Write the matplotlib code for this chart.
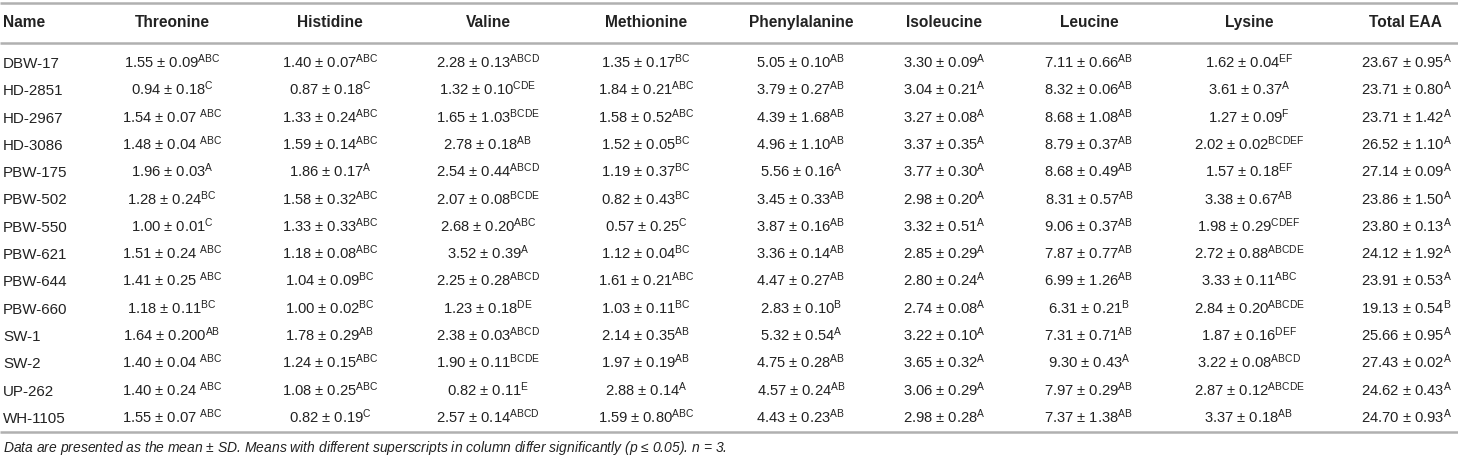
import matplotlib
matplotlib.use("Agg")
import matplotlib.pyplot as plt

plt.rcParams["font.family"] = ["Liberation Sans", "DejaVu Sans"]
plt.rcParams["mathtext.fontset"] = "custom"
plt.rcParams["mathtext.rm"] = "Liberation Sans"
plt.rcParams["mathtext.it"] = "Liberation Sans:italic"

columns = ["Name", "Threonine", "Histidine", "Valine", "Methionine",
           "Phenylalanine", "Isoleucine", "Leucine", "Lysine", "Total EAA"]

names = ["DBW-17", "HD-2851", "HD-2967", "HD-3086", "PBW-175", "PBW-502", "PBW-550",
         "PBW-621", "PBW-644", "PBW-660", "SW-1", "SW-2", "UP-262", "WH-1105"]

threonine = ["1.55 ± 0.09|ABC", "0.94 ± 0.18|C", "1.54 ± 0.07 |ABC", "1.48 ± 0.04 |ABC",
             "1.96 ± 0.03|A", "1.28 ± 0.24|BC", "1.00 ± 0.01|C", "1.51 ± 0.24 |ABC",
             "1.41 ± 0.25 |ABC", "1.18 ± 0.11|BC", "1.64 ± 0.200|AB", "1.40 ± 0.04 |ABC",
             "1.40 ± 0.24 |ABC", "1.55 ± 0.07 |ABC"]
histidine = ["1.40 ± 0.07|ABC", "0.87 ± 0.18|C", "1.33 ± 0.24|ABC", "1.59 ± 0.14|ABC",
             "1.86 ± 0.17|A", "1.58 ± 0.32|ABC", "1.33 ± 0.33|ABC", "1.18 ± 0.08|ABC",
             "1.04 ± 0.09|BC", "1.00 ± 0.02|BC", "1.78 ± 0.29|AB", "1.24 ± 0.15|ABC",
             "1.08 ± 0.25|ABC", "0.82 ± 0.19|C"]
valine = ["2.28 ± 0.13|ABCD", "1.32 ± 0.10|CDE", "1.65 ± 1.03|BCDE", "2.78 ± 0.18|AB",
          "2.54 ± 0.44|ABCD", "2.07 ± 0.08|BCDE", "2.68 ± 0.20|ABC", "3.52 ± 0.39|A",
          "2.25 ± 0.28|ABCD", "1.23 ± 0.18|DE", "2.38 ± 0.03|ABCD", "1.90 ± 0.11|BCDE",
          "0.82 ± 0.11|E", "2.57 ± 0.14|ABCD"]
methionine = ["1.35 ± 0.17|BC", "1.84 ± 0.21|ABC", "1.58 ± 0.52|ABC", "1.52 ± 0.05|BC",
              "1.19 ± 0.37|BC", "0.82 ± 0.43|BC", "0.57 ± 0.25|C", "1.12 ± 0.04|BC",
              "1.61 ± 0.21|ABC", "1.03 ± 0.11|BC", "2.14 ± 0.35|AB", "1.97 ± 0.19|AB",
              "2.88 ± 0.14|A", "1.59 ± 0.80|ABC"]
phenylalanine = ["5.05 ± 0.10|AB", "3.79 ± 0.27|AB", "4.39 ± 1.68|AB", "4.96 ± 1.10|AB",
                 "5.56 ± 0.16|A", "3.45 ± 0.33|AB", "3.87 ± 0.16|AB", "3.36 ± 0.14|AB",
                 "4.47 ± 0.27|AB", "2.83 ± 0.10|B", "5.32 ± 0.54|A", "4.75 ± 0.28|AB",
                 "4.57 ± 0.24|AB", "4.43 ± 0.23|AB"]
isoleucine = ["3.30 ± 0.09|A", "3.04 ± 0.21|A", "3.27 ± 0.08|A", "3.37 ± 0.35|A",
              "3.77 ± 0.30|A", "2.98 ± 0.20|A", "3.32 ± 0.51|A", "2.85 ± 0.29|A",
              "2.80 ± 0.24|A", "2.74 ± 0.08|A", "3.22 ± 0.10|A", "3.65 ± 0.32|A",
              "3.06 ± 0.29|A", "2.98 ± 0.28|A"]
leucine = ["7.11 ± 0.66|AB", "8.32 ± 0.06|AB", "8.68 ± 1.08|AB", "8.79 ± 0.37|AB",
           "8.68 ± 0.49|AB", "8.31 ± 0.57|AB", "9.06 ± 0.37|AB", "7.87 ± 0.77|AB",
           "6.99 ± 1.26|AB", "6.31 ± 0.21|B", "7.31 ± 0.71|AB", "9.30 ± 0.43|A",
           "7.97 ± 0.29|AB", "7.37 ± 1.38|AB"]
lysine = ["1.62 ± 0.04|EF", "3.61 ± 0.37|A", "1.27 ± 0.09|F", "2.02 ± 0.02|BCDEF",
          "1.57 ± 0.18|EF", "3.38 ± 0.67|AB", "1.98 ± 0.29|CDEF", "2.72 ± 0.88|ABCDE",
          "3.33 ± 0.11|ABC", "2.84 ± 0.20|ABCDE", "1.87 ± 0.16|DEF", "3.22 ± 0.08|ABCD",
          "2.87 ± 0.12|ABCDE", "3.37 ± 0.18|AB"]
total_eaa = ["23.67 ± 0.95|A", "23.71 ± 0.80|A", "23.71 ± 1.42|A", "26.52 ± 1.10|A",
             "27.14 ± 0.09|A", "23.86 ± 1.50|A", "23.80 ± 0.13|A", "24.12 ± 1.92|A",
             "23.91 ± 0.53|A", "19.13 ± 0.54|B", "25.66 ± 0.95|A", "27.43 ± 0.02|A",
             "24.62 ± 0.43|A", "24.70 ± 0.93|A"]

footnote = ("Data are presented as the mean ± SD. Means with different superscripts "
            "in column differ significantly ($p$ ≤ 0.05). $n$ = 3.")

value_cols = [threonine, histidine, valine, methionine, phenylalanine,
              isoleucine, leucine, lysine, total_eaa]
col_x = [172, 330, 488, 646, 801, 944, 1089, 1249, 1406]

W, H = 1458, 458
fig = plt.figure(figsize=(W / 100, H / 100), dpi=100)
ax = fig.add_axes([0, 0, 1, 1])
ax.set_xlim(0, W)
ax.set_ylim(H, 0)
ax.axis("off")

text_color = "#222222"
line_color = "#b0b0b0"
fs = 10.6
hfs = 11.2
first_row, row_step = 68, 27.3

# rules
for y in (3, 43, 432):
    ax.plot([0, W], [y, y], color=line_color, lw=1.8, solid_capstyle="butt")

# header
ax.text(3, 27, columns[0], fontsize=hfs, fontweight="bold", color=text_color,
        ha="left", va="baseline")
for x, label in zip(col_x, columns[1:]):
    ax.text(x, 27, label, fontsize=hfs, fontweight="bold", color=text_color,
            ha="center", va="baseline")

# body
for i, name in enumerate(names):
    y = first_row + i * row_step
    ax.text(3, y, name, fontsize=fs + 0.3, color=text_color, ha="left", va="baseline")
    for x, col in zip(col_x, value_cols):
        main, sup = col[i].split("|")
        ax.text(x, y, main + r"$^{\mathrm{" + sup + "}}$", fontsize=fs,
                color=text_color, ha="center", va="baseline")

ax.text(3, 452, footnote, fontsize=10.0, style="italic", color=text_color,
        ha="left", va="baseline")

fig.savefig("out.png", dpi=100)
